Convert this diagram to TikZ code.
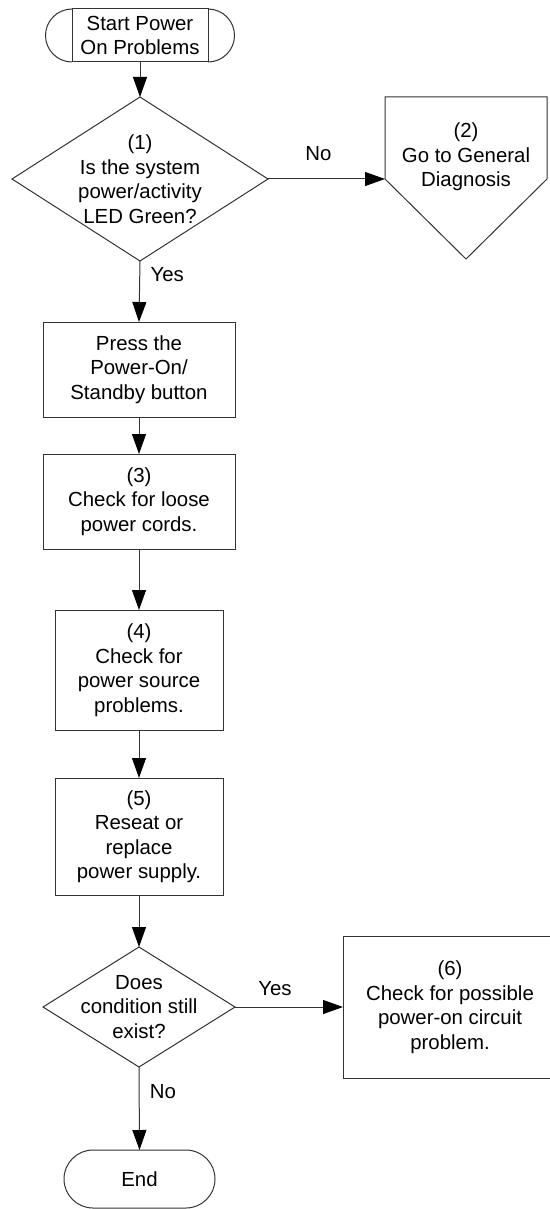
\documentclass[tikz,border=0pt]{standalone}
\usepackage{fontspec}
\setmainfont{Liberation Sans}
\usetikzlibrary{arrows.meta,shapes.geometric}

\tikzset{
  flow/.style={draw=black!80,line width=1pt},
  stepbox/.style={flow,align=center,inner sep=0pt,outer sep=0pt},
  decision/.style={flow,diamond,inner sep=0pt,outer sep=0pt},
  arr/.style={flow,-{Triangle[length=20pt,width=14pt,black]}},
}

\begin{document}
\begin{tikzpicture}[x=1pt,y=-1pt,font=\fontsize{20.4}{24.5}\selectfont]
\useasboundingbox (0,0) rectangle (549,1209);

% terminal boxes
\node[stepbox,minimum width=136pt,minimum height=53pt] (start) at (140,35.5) {Start Power\\On Problems};
\draw[flow] (start.north west) arc[start angle=90,end angle=270,radius=26.5pt];
\draw[flow] (start.north east) arc[start angle=90,end angle=-90,radius=26.5pt];
\node[stepbox,rounded corners=29pt,minimum width=151pt,minimum height=58pt] (finish) at (139.5,1179) {End};

% decisions
\node[decision,minimum width=256pt,minimum height=164pt,
  label={[align=center]center:{(1)\\Is the system\\power/activity\\LED Green?}}] (q1) at (140,179) {};
\node[decision,minimum width=192pt,minimum height=120pt,
  label={[align=center]center:{Does\\condition still\\exist?}}] (q2) at (139,1007) {};

% off-page connector
\coordinate (gen) at (385,179);
\node[align=center] (diag) at (466,157) {(2)\\Go to General\\Diagnosis};
\draw[flow] (gen) -- (385,97) -- (547,97) -- (547,179) -- (466,259) -- cycle;

% steps
\node[stepbox,minimum width=192pt,minimum height=95pt] (press) at (139,369.5) {Press the\\Power-On/\\Standby button};
\node[stepbox,minimum width=192pt,minimum height=95pt] (chk3) at (139,501.5) {(3)\\Check for loose\\power cords.};
\node[stepbox,minimum width=168pt,minimum height=120pt] (chk4) at (139,670) {(4)\\Check for\\power source\\problems.};
\node[stepbox,minimum width=168pt,minimum height=117pt] (chk5) at (139,836.5) {(5)\\Reseat or\\replace\\power supply.};
\node[stepbox,minimum width=214pt,minimum height=142pt] (chk6) at (450,1007) {(6)\\Check for possible\\power-on circuit\\problem.};

% connectors
\foreach \a/\b in {start/q1,press/chk3,chk3/chk4,chk4/chk5,chk5/q2}{
  \draw[arr] (\a.south) -- (\b.north);
}
\draw[arr] (q1.east) -- node[pos=0.43,above=14pt]{No} (gen);
\draw[arr] (q1.south) -- node[pos=0.23,right=7pt]{Yes} (press.north);
\draw[arr] (q2.east) -- node[pos=0.37,above=7.5pt]{Yes} (chk6.west);
\draw[arr] (q2.south) -- node[pos=0.3,right=7pt]{No} (finish.north);
\end{tikzpicture}
\end{document}
